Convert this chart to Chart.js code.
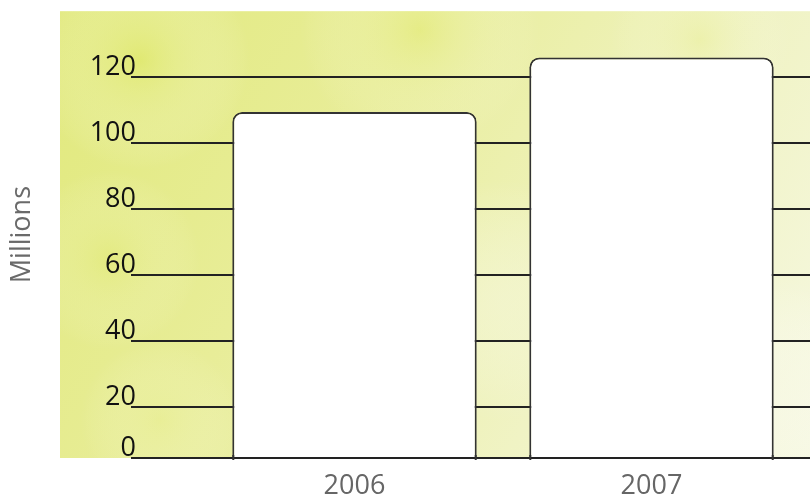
<!DOCTYPE html>
<html>
<head>
<meta charset="utf-8">
<script src="https://cdn.jsdelivr.net/npm/chart.js@4/dist/chart.umd.min.js"></script>
<style>
  html, body { margin: 0; padding: 0; background: #ffffff; }
  #wrap { width: 810px; height: 500px; }
</style>
</head>
<body>
<div id="wrap"><canvas id="c" width="810" height="500"></canvas></div>
<script>
// ---- data ----
const categories = ['2006', '2007'];
const seriesValues = [109.5, 126];
const yTickPositions = [4.7, 20, 40, 60, 80, 100, 120];
const yTickLabels = ['0', '20', '40', '60', '80', '100', '120'];
const yAxisTitle = 'Millions';
const yMin = 4.7;
const yMax = 140;

// ---- plugins ----
const backgroundPlugin = {
  id: 'texturedBackground',
  beforeDraw(chart) {
    const { ctx, chartArea } = chart;
    const x0 = 60, x1 = chart.width, y0 = chartArea.top, y1 = chartArea.bottom;
    ctx.save();
    const g = ctx.createLinearGradient(x0, y0, x1, y1);
    g.addColorStop(0, '#e1e97c');
    g.addColorStop(0.35, '#e8ed98');
    g.addColorStop(0.7, '#f0f3c4');
    g.addColorStop(1, '#f6f8e2');
    ctx.fillStyle = g;
    ctx.fillRect(x0, y0, x1 - x0, y1 - y0);
    const blobs = [
      [140, 60, 110, 'rgba(222,232,100,0.55)'],
      [420, 30, 120, 'rgba(226,234,110,0.45)'],
      [700, 40, 90, 'rgba(232,238,140,0.35)'],
      [110, 260, 90, 'rgba(224,233,110,0.40)'],
      [160, 420, 80, 'rgba(234,240,150,0.35)'],
      [500, 300, 120, 'rgba(246,248,225,0.45)'],
      [780, 380, 100, 'rgba(248,249,232,0.50)']
    ];
    blobs.forEach(([bx, by, r, col]) => {
      const rg = ctx.createRadialGradient(bx, by, 0, bx, by, r);
      rg.addColorStop(0, col);
      rg.addColorStop(1, 'rgba(255,255,255,0)');
      ctx.fillStyle = rg;
      ctx.fillRect(x0, y0, x1 - x0, y1 - y0);
    });
    ctx.restore();
  }
};

const barTickPlugin = {
  id: 'barEdgeTicks',
  afterDatasetsDraw(chart) {
    const { ctx } = chart;
    const meta = chart.getDatasetMeta(0);
    ctx.save();
    ctx.strokeStyle = '#333333';
    ctx.lineWidth = 2;
    meta.data.forEach(el => {
      const { x, width, base } = el.getProps(['x', 'width', 'base'], true);
      [x - width / 2 + 1, x + width / 2 - 1].forEach(px => {
        ctx.beginPath();
        ctx.moveTo(px, base - 2);
        ctx.lineTo(px, base + 3);
        ctx.stroke();
      });
    });
    ctx.restore();
  }
};

function setTicks(scale) {
  scale.ticks = yTickPositions.map(v => ({ value: v }));
}

Chart.defaults.font.family = "'Open Sans', 'Noto Sans', sans-serif";

new Chart(document.getElementById('c'), {
  type: 'bar',
  data: {
    labels: categories,
    datasets: [{
      data: seriesValues,
      base: yMin,
      backgroundColor: '#ffffff',
      borderColor: '#333333',
      borderWidth: 2,
      borderRadius: { topLeft: 10, topRight: 10, bottomLeft: 0, bottomRight: 0 },
      borderSkipped: 'bottom',
      categoryPercentage: 1.0,
      barPercentage: 0.823
    }]
  },
  options: {
    responsive: false,
    animation: false,
    devicePixelRatio: 1,
    layout: { padding: { top: 10, left: 0, right: 0, bottom: 0 } },
    plugins: { legend: { display: false }, tooltip: { enabled: false } },
    scales: {
      x: {
        grid: { display: false, drawTicks: false },
        border: { display: false },
        ticks: {
          color: '#666666',
          font: { size: 27 },
          padding: 12
        },
        afterFit(scale) { scale.height = 42; }
      },
      y: {
        position: 'left',
        min: yMin,
        max: yMax,
        afterBuildTicks: setTicks,
        grid: {
          color: '#222222',
          lineWidth: 2,
          drawTicks: true,
          tickLength: 75
        },
        border: { display: false },
        ticks: {
          color: '#111111',
          font: { size: 27 },
          padding: -5,
          labelOffset: -10,
          callback(value) {
            const i = yTickPositions.indexOf(value);
            return i >= 0 ? yTickLabels[i] : '';
          }
        },
        title: {
          display: true,
          text: yAxisTitle,
          color: '#6a6a6a',
          font: { size: 27 },
          padding: { top: 6, bottom: 0 }
        },
        afterFit(scale) { scale.width = 206; }
      },
      y2: {
        position: 'right',
        min: yMin,
        max: yMax,
        afterBuildTicks: setTicks,
        grid: {
          color: '#222222',
          lineWidth: 2,
          drawOnChartArea: false,
          drawTicks: true,
          tickLength: 10
        },
        border: { display: false },
        ticks: { display: false },
        afterFit(scale) { scale.width = 10; }
      }
    }
  },
  plugins: [backgroundPlugin, barTickPlugin]
});
</script>
</body>
</html>
